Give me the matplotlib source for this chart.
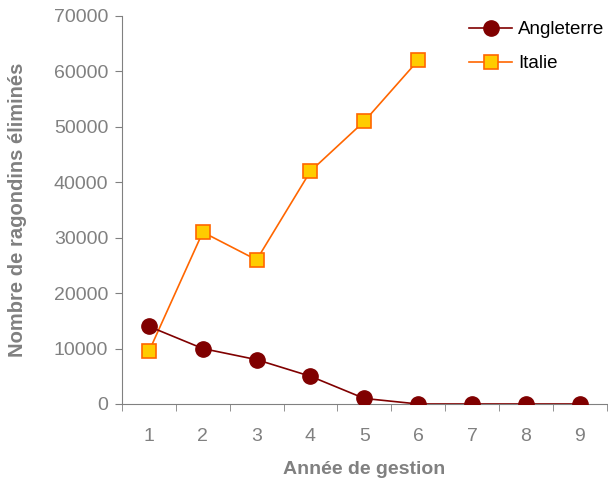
import matplotlib
matplotlib.use("Agg")
import matplotlib.pyplot as plt
import numpy as np

plt.rcParams['font.family'] = ['Liberation Sans', 'DejaVu Sans']

years = [1, 2, 3, 4, 5, 6, 7, 8, 9]
angleterre = [14000, 10000, 8000, 5000, 1000, 0, 0, 0, 0]
italie_years = [1, 2, 3, 4, 5, 6]
italie = [9500, 31000, 26000, 42000, 51000, 62000]

grey = '#808080'

fig = plt.figure(figsize=(6.08, 4.79), dpi=100)
ax = fig.add_axes([0.2007, 0.1566, 0.797, 0.81])

ax.plot(years, angleterre, color='#800000', lw=1.2, marker='o', ms=11,
        mfc='#800000', mec='#800000', label='Angleterre', zorder=3)
ax.plot(italie_years, italie, color='#ff6600', lw=1.2, marker='s', ms=10,
        mfc='#ffcc00', mec='#ff6600', mew=1.2, label='Italie', zorder=2)

ax.set_xlim(0.5, 9.5)
ax.set_ylim(0, 70000)
ax.set_yticks(np.arange(0, 70001, 10000))
ax.set_xticks(years)
ax.set_xticks(np.arange(0.5, 9.6, 1), minor=True)
ax.tick_params(axis='x', which='major', length=0, pad=17, labelsize=14, labelcolor=grey)
ax.tick_params(axis='x', which='minor', length=5, color=grey, direction='out')
ax.tick_params(axis='y', length=5, color=grey, labelsize=14, labelcolor=grey, pad=5)

for s in ['top', 'right']:
    ax.spines[s].set_visible(False)
for s in ['left', 'bottom']:
    ax.spines[s].set_color(grey)
    ax.spines[s].set_clip_on(False)

ax.set_xlabel('Année de gestion', fontsize=14, fontweight='bold', color=grey, labelpad=12)
ax.set_ylabel('Nombre de ragondins éliminés', fontsize=14.5, fontweight='bold', color=grey, labelpad=19)

ax.legend(loc='upper right', bbox_to_anchor=(1.03, 1.03), frameon=False, fontsize=13.5,
          handlelength=2.3, labelspacing=0.9, handletextpad=0.3)

fig.savefig('out.png', dpi=100)
